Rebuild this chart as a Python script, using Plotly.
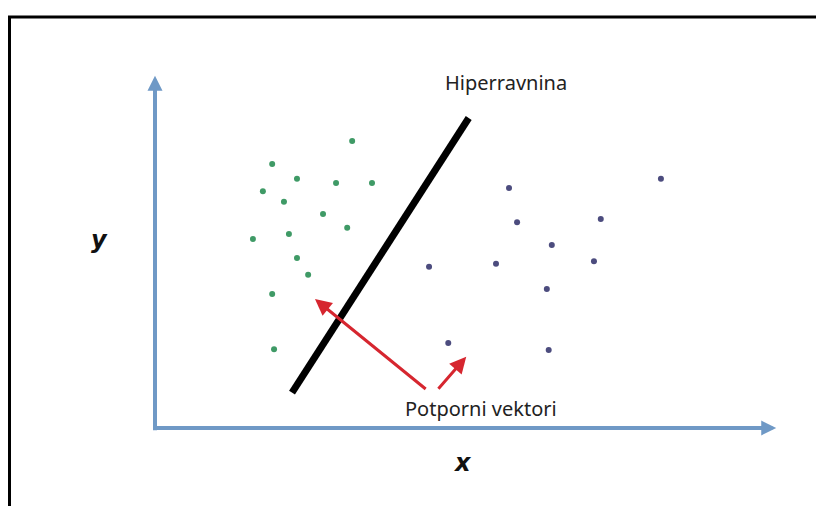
import plotly.graph_objects as go

# ---- data (units: x axis 0..10, y axis 0..5.7) ----
green_x = [3.18, 1.89, 2.29, 2.92, 3.50, 1.74, 2.08, 2.71, 3.10, 1.58, 2.16, 2.29, 2.47, 1.89, 1.92]
green_y = [4.63, 4.26, 4.02, 3.95, 3.95, 3.82, 3.65, 3.45, 3.23, 3.05, 3.13, 2.74, 2.47, 2.16, 1.27]

purple_x = [8.16, 5.71, 5.84, 7.19, 6.40, 4.42, 5.50, 7.08, 6.32, 4.73, 6.35]
purple_y = [4.02, 3.87, 3.32, 3.37, 2.95, 2.60, 2.65, 2.69, 2.24, 1.37, 1.26]

hyper_x = [2.21, 5.06]
hyper_y = [0.57, 5.00]

# support-vector arrows: (tail_x, tail_y, head_x, head_y)
sv_tail_x = [4.39, 4.55]
sv_tail_y = [0.61, 0.61]
sv_head_x = [2.58, 5.02]
sv_head_y = [2.08, 1.15]

axis_len_x = 10.02
axis_len_y = 5.68

# page body has an 8px margin, so the figure is drawn 8px in from the window edge
OFF = 8
W, H = 824 - OFF, 506 - OFF
OX, OY, S = 155 - OFF, 428 - OFF, 62.0
x_range = [(0 - OX) / S, (W - OX) / S]
y_range = [(OY - H) / S, (OY - 0) / S]

AXIS_BLUE = "#6f99c6"
fig = go.Figure()

fig.add_trace(go.Scatter(x=green_x, y=green_y, mode="markers",
                         marker=dict(size=6, color="#3f9a66"), hoverinfo="skip"))
fig.add_trace(go.Scatter(x=purple_x, y=purple_y, mode="markers",
                         marker=dict(size=6, color="#4c4c7e"), hoverinfo="skip"))
fig.add_trace(go.Scatter(x=hyper_x, y=hyper_y, mode="lines",
                         line=dict(color="black", width=7), hoverinfo="skip"))

annotations = []
# coordinate axes as arrows
annotations.append(dict(x=0, y=axis_len_y, ax=0, ay=-0.06, xref="x", yref="y", axref="x", ayref="y",
                        showarrow=True, arrowhead=2, arrowsize=0.75, arrowwidth=4, arrowcolor=AXIS_BLUE, text=""))
annotations.append(dict(x=axis_len_x, y=0, ax=-0.03, ay=0, xref="x", yref="y", axref="x", ayref="y",
                        showarrow=True, arrowhead=2, arrowsize=0.75, arrowwidth=4, arrowcolor=AXIS_BLUE, text=""))
# support vector arrows
for tx, ty, hx, hy in zip(sv_tail_x, sv_tail_y, sv_head_x, sv_head_y):
    annotations.append(dict(x=hx, y=hy, ax=tx, ay=ty, xref="x", yref="y", axref="x", ayref="y",
                            showarrow=True, arrowhead=2, arrowsize=1.1, arrowwidth=3,
                            arrowcolor="#d6262f", text=""))

text_font = dict(family="Noto Sans, sans-serif", size=20, color="#222222")
annotations.append(dict(x=5.66, y=5.58, xref="x", yref="y", text="Hiperravnina",
                        showarrow=False, font=text_font))
annotations.append(dict(x=5.26, y=0.32, xref="x", yref="y", text="Potporni vektori",
                        showarrow=False, font=text_font))
annotations.append(dict(x=-0.89, y=3.03, xref="x", yref="y", text="<b><i>y</i></b>",
                        showarrow=False, font=dict(family="DejaVu Sans, sans-serif", size=24, color="#111111")))
annotations.append(dict(x=4.97, y=-0.56, xref="x", yref="y", text="<b><i>x</i></b>",
                        showarrow=False, font=dict(family="DejaVu Sans, sans-serif", size=24, color="#111111")))

fig.update_layout(
    width=W, height=H,
    margin=dict(l=0, r=0, t=0, b=0),
    paper_bgcolor="white", plot_bgcolor="white",
    showlegend=False,
    xaxis=dict(range=x_range, visible=False, fixedrange=True),
    yaxis=dict(range=y_range, visible=False, fixedrange=True),
    annotations=annotations,
    shapes=[dict(type="rect", xref="paper", yref="paper",
                 x0=1.5 / W, x1=1.02, y0=-0.02, y1=1 - (17 - OFF) / H,
                 line=dict(color="black", width=3))],
)

fig.write_html("out.html", config={"displayModeBar": False})
